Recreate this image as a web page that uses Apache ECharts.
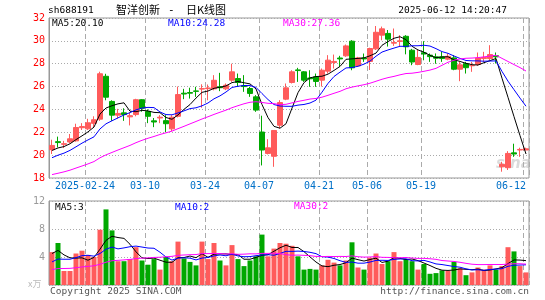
<!DOCTYPE html>
<html><head><meta charset="utf-8">
<script src="https://cdn.jsdelivr.net/npm/echarts@6/dist/echarts.min.js"></script>
<style>html,body{margin:0;padding:0;background:#fff}#c{width:545px;height:300px}</style>
</head><body><div id="c"></div>
<script>
// ---- data ----
const dates = ['2025-02-14','2025-02-17','2025-02-18','2025-02-19','2025-02-20','2025-02-21',
'2025-02-24','2025-02-25','2025-02-26','2025-02-27','2025-02-28','2025-03-03','2025-03-04','2025-03-05','2025-03-06','2025-03-07',
'2025-03-10','2025-03-11','2025-03-12','2025-03-13','2025-03-14','2025-03-17','2025-03-18','2025-03-19','2025-03-20','2025-03-21',
'2025-03-24','2025-03-25','2025-03-26','2025-03-27','2025-03-28','2025-03-31','2025-04-01','2025-04-02','2025-04-03',
'2025-04-07','2025-04-08','2025-04-09','2025-04-10','2025-04-11','2025-04-14','2025-04-15','2025-04-16','2025-04-17','2025-04-18',
'2025-04-21','2025-04-22','2025-04-23','2025-04-24','2025-04-25','2025-04-28','2025-04-29','2025-04-30',
'2025-05-06','2025-05-07','2025-05-08','2025-05-09','2025-05-12','2025-05-13','2025-05-14','2025-05-15','2025-05-16',
'2025-05-19','2025-05-20','2025-05-21','2025-05-22','2025-05-23','2025-05-26','2025-05-27','2025-05-28','2025-05-29','2025-05-30',
'2025-06-03','2025-06-04','2025-06-05','2025-06-06','2025-06-09','2025-06-10','2025-06-11','2025-06-12'];
const opens  = [20.48,21.18,20.95,21.15,21.25,22.4,22.3,22.78,23.15,26.9,24.7,23.5,23.7,23.35,23.55,24.85,23.82,23.0,23.25,23.02,
22.3,23.4,25.42,25.48,25.62,25.78,25.82,25.8,25.98,25.8,26.56,26.7,26.08,25.83,25.1,22.02,20.15,19.9,22.62,24.9,
26.36,27.46,27.29,26.75,26.85,26.56,27.35,28.1,28.5,28.69,29.97,27.81,28.5,28.2,29.3,30.5,30.65,29.8,29.95,30.4,
29.18,27.93,28.95,28.75,28.6,28.6,28.4,28.51,27.52,28.0,27.82,27.93,28.45,28.45,28.7,18.98,18.9,20.2,20.45,20.45];
const closes = [20.85,21.1,21.0,21.43,22.42,22.5,22.83,23.1,27.12,25.07,23.5,23.65,23.55,23.45,24.85,24.1,23.4,22.9,23.32,22.75,
23.32,25.3,25.35,25.42,25.58,25.82,25.88,26.55,25.9,26.12,27.29,26.36,26.0,25.4,23.94,20.45,20.64,22.16,24.6,25.89,
27.29,27.4,26.56,26.68,26.45,27.43,28.31,28.2,28.42,29.56,27.64,28.51,28.42,29.33,30.75,31.05,30.15,29.85,30.0,29.48,
28.15,28.55,28.85,28.62,28.48,28.45,28.65,27.52,27.9,27.65,27.85,28.5,28.55,28.8,28.6,19.2,20.15,20.1,20.5,20.55];
const lows   = [20.1,20.68,20.62,21.05,21.18,22.2,22.2,22.4,23.0,24.8,23.0,23.2,23.0,22.6,23.4,23.8,22.8,22.45,22.8,22.0,
22.1,23.3,24.9,24.95,25.1,24.15,24.8,25.67,25.6,25.69,26.41,25.98,25.54,25.1,23.79,19.1,20.06,18.98,22.33,24.81,
26.27,26.41,26.41,25.98,25.98,26.0,27.14,27.58,27.73,28.6,27.43,27.73,28.16,27.45,29.2,30.05,29.5,29.56,29.48,28.82,
27.87,27.87,28.3,28.16,28.0,28.16,28.3,27.43,26.47,27.14,27.29,27.81,28.16,28.31,28.02,18.55,18.7,19.85,19.85,20.45];
const highs  = [21.35,21.62,21.25,21.85,22.75,22.8,23.18,23.4,27.3,27.12,24.8,24.05,24.1,23.76,24.93,24.9,24.0,23.25,23.5,23.5,
23.5,26.0,25.8,25.9,25.98,26.2,26.18,27.0,27.2,26.27,28.0,27.14,27.0,25.98,25.25,23.45,21.4,22.16,24.81,26.27,
27.43,27.64,27.35,27.43,27.14,27.58,28.75,28.8,28.69,29.68,30.06,28.6,28.89,29.4,31.3,31.25,30.95,31.08,30.5,30.5,
29.3,29.2,29.97,28.9,28.9,29.04,28.9,28.75,28.16,28.16,28.16,28.98,29.04,29.62,28.98,19.42,20.35,21.0,20.65,20.65];
const volumes = [4.7,6.0,2.0,2.0,4.5,4.9,4.3,4.0,7.9,10.8,7.8,3.4,3.4,3.7,5.4,3.5,2.9,3.7,2.2,4.0,
3.4,6.2,3.8,3.3,2.8,6.2,3.7,6.0,3.5,2.8,5.7,3.7,2.7,3.5,4.1,7.2,4.1,5.2,6.0,5.9,
5.6,4.1,2.2,2.3,2.2,2.8,3.6,3.2,2.8,3.5,6.1,2.5,2.2,3.9,4.5,3.0,3.4,4.7,3.4,3.7,
3.4,2.2,3.0,1.6,1.7,2.1,2.0,3.3,2.4,1.4,1.8,2.5,2.2,2.8,2.2,2.7,5.4,4.8,2.7,1.8];
// estimated history before the window (implied by the moving-average lines at the left edge)
const priorCloses = [17.6,17.3,17.0,16.9,17.1,17.3,17.0,17.2,17.4,17.1,17.3,17.5,17.4,
17.7,17.9,18.0,18.2,18.1,18.4,18.8,18.9,19.2,19.0,19.3,19.3,20.0,20.4,20.2,20.6];
const priorVolumes = [1.5,1.8,1.4,1.7,1.6,1.9,1.5,1.6,1.8,1.4,1.7,1.6,1.5,1.9,1.7,1.6,1.8,1.5,1.7,1.8,
1.9,2.3,2.0,2.2,2.1,3.8,5.2,4.1,4.7];
const tickDates = ['2025-02-24','2025-03-10','2025-03-24','2025-04-07','2025-04-21','2025-05-06','2025-05-19','2025-06-12'];
const priceTicks = [18,20,22,24,26,28,30,32];
const volTicks = [0,4,8,12];

// ---- derived ----
function movingAvg(prior, vals, n) {
  const all = prior.concat(vals), off = prior.length;
  return vals.map((_, i) => { let s = 0; for (let k = 0; k < n; k++) s += all[off + i - k]; return s / n; });
}
const ma5 = movingAvg(priorCloses, closes, 5), ma10 = movingAvg(priorCloses, closes, 10), ma30 = movingAvg(priorCloses, closes, 30);
const vma5 = movingAvg(priorVolumes, volumes, 5), vma10 = movingAvg(priorVolumes, volumes, 10), vma30 = movingAvg(priorVolumes, volumes, 30);
const UP = '#ff5b5b', DOWN = '#00a800';
const kData = dates.map((d, i) => [opens[i], closes[i], lows[i], highs[i]]);
const vData = volumes.map((v, i) => ({ value: v, itemStyle: { color: closes[i] >= opens[i] ? UP : DOWN } }));
const tickSet = new Set(tickDates);
const last = a => a[a.length - 1];
const mono = '"DejaVu Sans Mono", monospace';

const chart = echarts.init(document.getElementById('c'), null, { renderer: 'canvas' });
const lineS = (name, data, color, xi) => ({ name, type: 'line', data, xAxisIndex: xi, yAxisIndex: xi, symbol: 'none',
  lineStyle: { color, width: 1 }, itemStyle: { color }, silent: true, z: 5, animation: false });
const splitV = { show: true, interval: (i, v) => tickSet.has(v), lineStyle: { color: '#aaa', type: [5, 3], width: 1 } };
const txt = (text, x, y, fill, size, align, font) => ({ type: 'text', z: 10, style: { text, x, y, fill,
  font: (size || 9.5) + 'px ' + (font || mono), align: align || 'left', verticalAlign: 'middle' } });

chart.setOption({
  animation: false,
  backgroundColor: '#fff',
  grid: [
    { left: 49, top: 18, width: 480, height: 160, show: true, borderColor: '#999', borderWidth: 1, backgroundColor: 'transparent' },
    { left: 49, top: 201, width: 480, height: 84, show: true, borderColor: '#999', borderWidth: 1, backgroundColor: 'transparent' }
  ],
  xAxis: [
    { type: 'category', data: dates, gridIndex: 0, boundaryGap: true,
      axisLine: { show: false }, axisTick: { show: false }, splitLine: splitV,
      axisLabel: { interval: (i, v) => tickSet.has(v), margin: 3, color: '#0070c8', fontFamily: mono, fontSize: 10,
        formatter: v => { const t = v === tickDates[0] ? v : v.slice(5); return v === last(tickDates) ? '{e|' + t + '}' : '{a|' + t + '}'; },
        rich: { a: { padding: [0, 6, 0, 0], color: '#0070c8', fontFamily: mono, fontSize: 10 },
                e: { padding: [0, 30, 0, 0], color: '#0070c8', fontFamily: mono, fontSize: 10 } } } },
    { type: 'category', data: dates, gridIndex: 1, boundaryGap: true,
      axisLine: { show: false }, axisTick: { show: false }, axisLabel: { show: false }, splitLine: splitV }
  ],
  yAxis: [
    { type: 'value', gridIndex: 0, min: priceTicks[0], max: last(priceTicks), interval: 2, scale: true,
      axisLine: { show: true, lineStyle: { color: '#999' } }, axisTick: { show: false },
      axisLabel: { color: '#f00', fontFamily: mono, fontSize: 10, margin: 4 },
      splitLine: { show: true, lineStyle: { color: '#aaa', type: [1, 2], width: 1 } } },
    { type: 'value', gridIndex: 1, min: volTicks[0], max: last(volTicks), interval: 4,
      axisLine: { show: true, lineStyle: { color: '#999' } }, axisTick: { show: false },
      axisLabel: { color: '#999', fontFamily: mono, fontSize: 10, margin: 4, formatter: v => v === 0 ? '' : String(v) },
      splitLine: { show: true, lineStyle: { color: '#aaa', type: [1, 2], width: 1 } } }
  ],
  series: [
    { type: 'candlestick', data: kData, xAxisIndex: 0, yAxisIndex: 0, barWidth: 5, z: 3,
      itemStyle: { color: UP, color0: DOWN, borderColor: UP, borderColor0: DOWN, borderWidth: 1 } },
    lineS('MA5', ma5, '#000', 0), lineS('MA10', ma10, '#0000ff', 0), lineS('MA30', ma30, '#ff00ff', 0),
    { type: 'bar', data: vData, xAxisIndex: 1, yAxisIndex: 1, barWidth: 5, z: 3 },
    lineS('VMA5', vma5, '#000', 1), lineS('VMA10', vma10, '#0000ff', 1), lineS('VMA30', vma30, '#ff00ff', 1)
  ],
  graphic: [
    { type: 'text', z: 1, style: { text: 'sina', x: 496, y: 164, fill: 'rgba(175,175,175,0.45)',
      font: 'italic bold 15px "DejaVu Sans", sans-serif', verticalAlign: 'middle' } },
    txt('sh688191', 48, 11, '#000', 9.5),
    txt('智洋创新', 116, 10, '#000', 11, 'left', '"Noto Sans CJK SC", sans-serif'),
    txt('-', 168, 10, '#000', 11),
    txt('日K线图', 186, 10, '#000', 11, 'left', '"Noto Sans CJK SC", sans-serif'),
    txt('2025-06-12 14:20:47', 507, 11, '#000', 9.5, 'right'),
    txt('MA5:' + last(ma5).toFixed(2), 52, 24, '#000', 9.5),
    txt('MA10:' + last(ma10).toFixed(2), 168, 24, '#0000ff', 9.5),
    txt('MA30:' + last(ma30).toFixed(2), 283, 24, '#ff00ff', 9.5),
    txt('MA5:' + Math.floor(last(vma5)), 55, 208, '#000', 9.5),
    txt('MA10:' + Math.floor(last(vma10)), 175, 208, '#0000ff', 9.5),
    txt('MA30:' + Math.floor(last(vma30)), 294, 207, '#ff00ff', 9.5),
    txt('x万', 28, 284, '#bbb', 9, 'left', '"Noto Sans CJK SC", sans-serif'),
    txt('Copyright 2025 SINA.COM', 50, 292, '#555', 9.5),
    txt('http://finance.sina.com.cn', 529, 292, '#555', 9.5, 'right')
  ]
});
</script></body></html>
